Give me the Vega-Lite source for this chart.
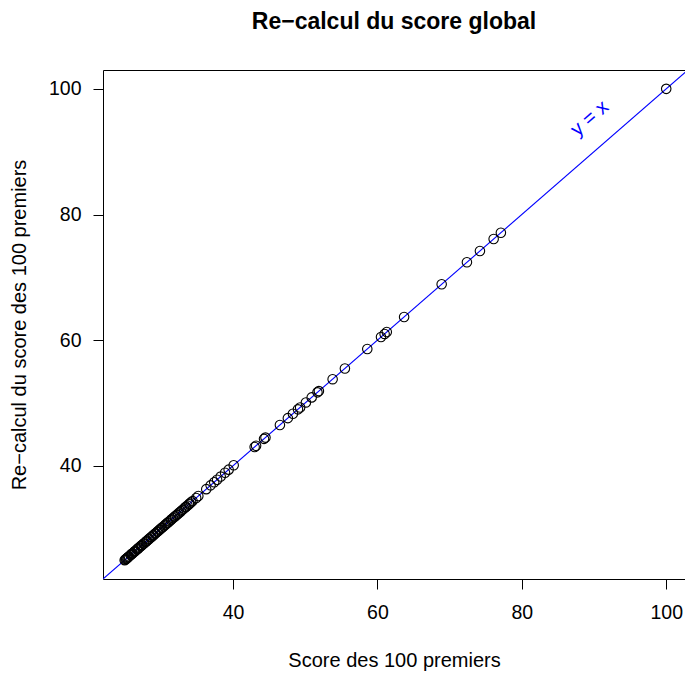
{
  "$schema": "https://vega.github.io/schema/vega-lite/v6.json",
  "autosize": "none",
  "padding": {"left": 103, "top": 70, "right": 0, "bottom": 98},
  "width": 582,
  "height": 509,
  "background": "white",
  "config": {
    "view": {"stroke": null},
    "font": "Liberation Sans",
    "axis": {"grid": false, "domainColor": "black", "tickColor": "black", "labelColor": "black", "titleColor": "black", "labelFont": "Liberation Sans", "titleFont": "Liberation Sans", "labelFontSize": 19.5, "titleFontSize": 20, "titleFontWeight": "normal", "tickSize": 10, "domainWidth": 1, "tickWidth": 1}
  },
  "title": {"text": "Re−calcul du score global", "font": "Liberation Sans", "fontSize": 23, "fontWeight": "bold", "color": "black", "anchor": "middle", "baseline": "alphabetic", "offset": 18},
  "datasets": {
    "scores": [
      {"score": 25.0, "recalc": 25.0}, {"score": 25.1, "recalc": 25.1}, {"score": 25.2, "recalc": 25.2}, {"score": 25.3, "recalc": 25.3},
      {"score": 25.4, "recalc": 25.4}, {"score": 25.5, "recalc": 25.5}, {"score": 25.6, "recalc": 25.6}, {"score": 25.8, "recalc": 25.8},
      {"score": 25.9, "recalc": 25.9}, {"score": 26.0, "recalc": 26.0}, {"score": 26.1, "recalc": 26.1}, {"score": 26.3, "recalc": 26.3},
      {"score": 26.4, "recalc": 26.4}, {"score": 26.5, "recalc": 26.5}, {"score": 26.7, "recalc": 26.7}, {"score": 26.8, "recalc": 26.8},
      {"score": 26.9, "recalc": 26.9}, {"score": 27.0, "recalc": 27.0}, {"score": 27.2, "recalc": 27.2}, {"score": 27.3, "recalc": 27.3},
      {"score": 27.4, "recalc": 27.4}, {"score": 27.6, "recalc": 27.6}, {"score": 27.7, "recalc": 27.7}, {"score": 27.9, "recalc": 27.9},
      {"score": 28.0, "recalc": 28.0}, {"score": 28.1, "recalc": 28.1}, {"score": 28.3, "recalc": 28.3}, {"score": 28.4, "recalc": 28.4},
      {"score": 28.6, "recalc": 28.6}, {"score": 28.7, "recalc": 28.7}, {"score": 28.9, "recalc": 28.9}, {"score": 29.0, "recalc": 29.0},
      {"score": 29.2, "recalc": 29.2}, {"score": 29.3, "recalc": 29.3}, {"score": 29.5, "recalc": 29.5}, {"score": 29.6, "recalc": 29.6},
      {"score": 29.8, "recalc": 29.8}, {"score": 29.9, "recalc": 29.9}, {"score": 30.1, "recalc": 30.1}, {"score": 30.2, "recalc": 30.2},
      {"score": 30.4, "recalc": 30.4}, {"score": 30.6, "recalc": 30.6}, {"score": 30.7, "recalc": 30.7}, {"score": 30.9, "recalc": 30.9},
      {"score": 31.0, "recalc": 31.0}, {"score": 31.2, "recalc": 31.2}, {"score": 31.4, "recalc": 31.4}, {"score": 31.5, "recalc": 31.5},
      {"score": 31.7, "recalc": 31.7}, {"score": 31.9, "recalc": 31.9}, {"score": 32.0, "recalc": 32.0}, {"score": 32.2, "recalc": 32.2},
      {"score": 32.4, "recalc": 32.4}, {"score": 32.6, "recalc": 32.6}, {"score": 32.8, "recalc": 32.8}, {"score": 33.0, "recalc": 33.0},
      {"score": 33.2, "recalc": 33.2}, {"score": 33.4, "recalc": 33.4}, {"score": 33.5, "recalc": 33.5}, {"score": 33.7, "recalc": 33.7},
      {"score": 33.9, "recalc": 33.9}, {"score": 34.0, "recalc": 34.0}, {"score": 34.2, "recalc": 34.2}, {"score": 34.4, "recalc": 34.4},
      {"score": 34.9, "recalc": 34.9}, {"score": 35.2, "recalc": 35.2}, {"score": 36.3, "recalc": 36.3}, {"score": 36.9, "recalc": 36.9},
      {"score": 37.4, "recalc": 37.4}, {"score": 37.8, "recalc": 37.8}, {"score": 38.3, "recalc": 38.3}, {"score": 38.9, "recalc": 38.9},
      {"score": 39.4, "recalc": 39.4}, {"score": 40.1, "recalc": 40.1}, {"score": 43.0, "recalc": 43.0}, {"score": 43.2, "recalc": 43.2},
      {"score": 44.3, "recalc": 44.3}, {"score": 44.5, "recalc": 44.5}, {"score": 46.5, "recalc": 46.5}, {"score": 47.6, "recalc": 47.6},
      {"score": 48.3, "recalc": 48.3}, {"score": 49.0, "recalc": 49.0}, {"score": 49.3, "recalc": 49.3}, {"score": 50.1, "recalc": 50.1},
      {"score": 50.9, "recalc": 50.9}, {"score": 51.7, "recalc": 51.7}, {"score": 51.9, "recalc": 51.9}, {"score": 53.8, "recalc": 53.8},
      {"score": 55.5, "recalc": 55.5}, {"score": 58.6, "recalc": 58.6}, {"score": 60.5, "recalc": 60.5}, {"score": 61.0, "recalc": 61.0},
      {"score": 61.3, "recalc": 61.3}, {"score": 63.7, "recalc": 63.7}, {"score": 68.9, "recalc": 68.9}, {"score": 72.4, "recalc": 72.4},
      {"score": 74.2, "recalc": 74.2}, {"score": 76.1, "recalc": 76.1}, {"score": 77.1, "recalc": 77.1}, {"score": 100.0, "recalc": 100.0}
    ],
    "diag": [{"a": 0, "b": 0, "a2": 120, "b2": 120}],
    "lbl": [{"lx": 89.4, "ly": 95.3, "label": "y = x"}]
  },
  "resolve": {"axis": {"x": "independent", "y": "independent"}},
  "layer": [
    {
      "data": {"name": "diag"},
      "mark": {"type": "rule", "color": "#0000FF", "strokeWidth": 1.1, "clip": true},
      "encoding": {
        "x": {"field": "a", "type": "quantitative", "scale": {"domain": [22, 102.6], "nice": false, "zero": false}, "axis": {"orient": "top", "ticks": false, "labels": false, "title": null, "domain": true}},
        "y": {"field": "b", "type": "quantitative", "scale": {"domain": [22, 103], "nice": false, "zero": false}, "axis": null},
        "x2": {"field": "a2"},
        "y2": {"field": "b2"}
      }
    },
    {
      "data": {"name": "scores"},
      "mark": {"type": "point", "shape": "circle", "filled": false, "stroke": "black", "strokeWidth": 1.1, "size": 90, "opacity": 1},
      "encoding": {
        "x": {"field": "score", "type": "quantitative", "scale": {"domain": [22, 102.6], "nice": false, "zero": false}, "axis": {"values": [40, 60, 80, 100], "title": "Score des 100 premiers", "labelPadding": 14, "titlePadding": 29, "labelBaseline": "top"}},
        "y": {"field": "recalc", "type": "quantitative", "scale": {"domain": [22, 103], "nice": false, "zero": false}, "axis": {"values": [40, 60, 80, 100], "title": "Re−calcul du score des 100 premiers", "labelPadding": 12, "titlePadding": 19}}
      }
    },
    {
      "data": {"name": "lbl"},
      "mark": {"type": "text", "color": "#0000FF", "fontSize": 20, "font": "Liberation Sans", "angle": 319, "align": "center", "baseline": "middle"},
      "encoding": {
        "x": {"field": "lx", "type": "quantitative", "scale": {"domain": [22, 102.6], "nice": false, "zero": false}, "axis": null},
        "y": {"field": "ly", "type": "quantitative", "scale": {"domain": [22, 103], "nice": false, "zero": false}, "axis": null},
        "text": {"field": "label"}
      }
    }
  ]
}
